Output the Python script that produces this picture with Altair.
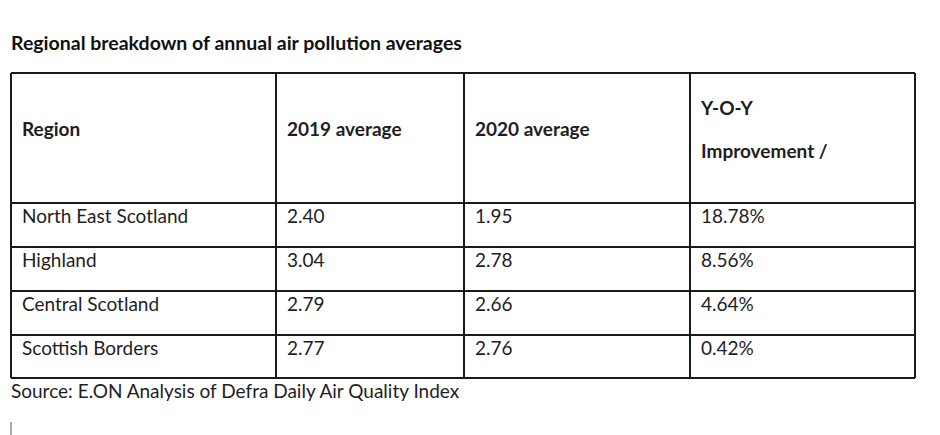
import altair as alt
import pandas as pd

# ---- data ----
title_text = "Regional breakdown of annual air pollution averages"
source_text = "Source: E.ON Analysis of Defra Daily Air Quality Index"
headers = ["Region", "2019 average", "2020 average", "Y-O-Y", "Improvement /"]
regions = ["North East Scotland", "Highland", "Central Scotland", "Scottish Borders"]
avg_2019 = ["2.40", "3.04", "2.79", "2.77"]
avg_2020 = ["1.95", "2.78", "2.66", "2.76"]
yoy_improvement = ["18.78%", "8.56%", "4.64%", "0.42%"]

# ---- layout (page pixel coordinates) ----
col_edges = [11, 276, 464, 690, 915]
row_edges = [73, 203, 247, 291, 335, 378]
header_col = [0, 1, 2, 3, 3]
header_y = [130, 130, 130, 109, 152]
PAD_X = 11
FONT = "Lato"
W, H = 924, 427

xs = alt.Scale(domain=[8, 8 + W], range=[0, W], nice=False, zero=False)
ys = alt.Scale(domain=[8, 8 + H], range=[0, H], nice=False, zero=False)

def pos():
    return dict(x=alt.X("x:Q", scale=xs, axis=None), y=alt.Y("y:Q", scale=ys, axis=None))

# grid lines
vlines = pd.DataFrame({"x": col_edges, "y": row_edges[0], "y2": row_edges[-1]})
hlines = pd.DataFrame({"y": row_edges, "x": col_edges[0], "x2": col_edges[-1]})

v = alt.Chart(vlines).mark_rule(color="#1a1a1a", strokeWidth=2).encode(**pos(), y2="y2:Q")
h = alt.Chart(hlines).mark_rule(color="#1a1a1a", strokeWidth=2).encode(**pos(), x2="x2:Q")

# header cells
hdr = pd.DataFrame({
    "x": [col_edges[c] + PAD_X for c in header_col],
    "y": header_y,
    "t": headers,
})
hdr_text = alt.Chart(hdr).mark_text(
    align="left", baseline="middle", font=FONT, fontSize=19, fontWeight="bold",
    color="#1e1e1e",
).encode(**pos(), text="t:N")

# body cells
columns = [regions, avg_2019, avg_2020, yoy_improvement]
body_rows = []
for r in range(len(regions)):
    for c, col in enumerate(columns):
        body_rows.append({
            "x": col_edges[c] + PAD_X,
            "y": row_edges[r + 1] + 14,
            "t": col[r],
        })
body = pd.DataFrame(body_rows)
body_text = alt.Chart(body).mark_text(
    align="left", baseline="middle", font=FONT, fontSize=19, color="#1e1e1e",
).encode(**pos(), text="t:N")

# title & source
ttl = alt.Chart(pd.DataFrame({"x": [col_edges[0]], "y": [44], "t": [title_text]})).mark_text(
    align="left", baseline="middle", font=FONT, fontSize=19.5, fontWeight="bold", color="#111111",
).encode(**pos(), text="t:N")

src = alt.Chart(pd.DataFrame({"x": [col_edges[0]], "y": [392], "t": [source_text]})).mark_text(
    align="left", baseline="middle", font=FONT, fontSize=19, color="#1e1e1e",
).encode(**pos(), text="t:N")

cursor = alt.Chart(pd.DataFrame({"x": [col_edges[0]], "y": [422], "y2": [435]})).mark_rule(
    color="#555555", strokeWidth=1,
).encode(**pos(), y2="y2:Q")

chart = alt.layer(v, h, hdr_text, body_text, ttl, src, cursor).properties(
    width=W, height=H, padding=0, autosize=alt.AutoSizeParams(type="none"),
    background="white",
).configure_view(stroke=None)

chart.save("out.html", embed_options={"renderer": "svg", "actions": False})
